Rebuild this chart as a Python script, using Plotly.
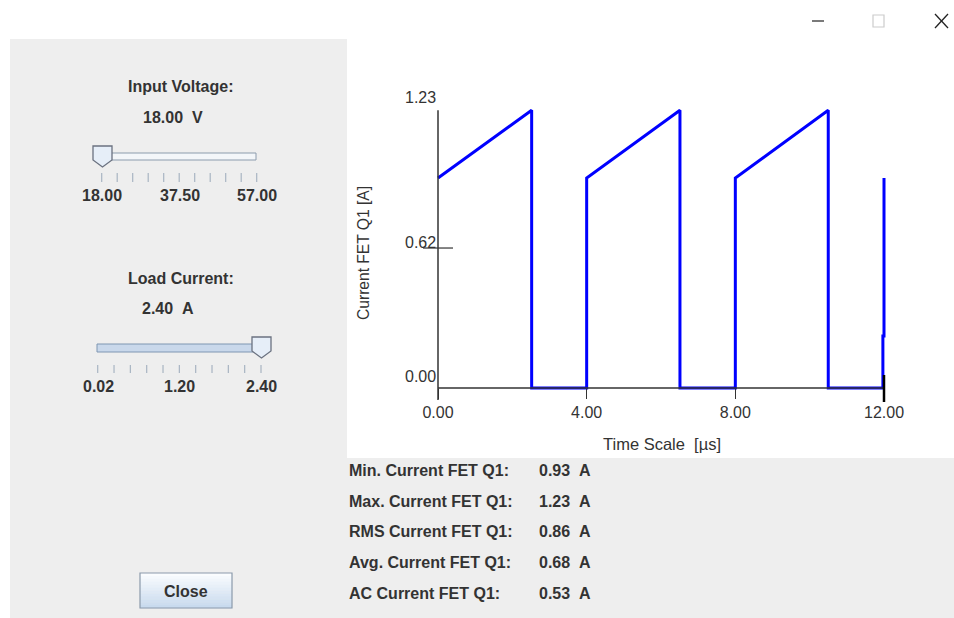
import plotly.graph_objects as go

# ---------------- data ----------------
time_us = [0.0, 2.52, 2.52, 4.0, 4.0, 6.51, 6.51, 8.0, 8.0, 10.50, 10.50, 11.97, 11.97, 12.0, 12.0]
current_a = [0.93, 1.23, 0.0, 0.0, 0.93, 1.23, 0.0, 0.0, 0.93, 1.23, 0.0, 0.0, 0.23, 0.23, 0.93]

x_tick_vals = [0, 4, 8, 12]
x_tick_text = ["0.00", "4.00", "8.00", "12.00"]
y_tick_vals = [1.23, 0.62, 0.00]
y_tick_text = ["1.23", "0.62", "0.00"]

voltage_slider_labels = ["18.00", "37.50", "57.00"]
current_slider_labels = ["0.02", "1.20", "2.40"]

stat_labels = ["Min. Current FET Q1:", "Max. Current FET Q1:", "RMS Current FET Q1:",
               "Avg. Current FET Q1:", "AC Current FET Q1:"]
stat_values = ["0.93", "1.23", "0.86", "0.68", "0.53"]
stat_unit = "A"

# ---------------- geometry helpers ----------------
W, H = 954, 618
FONT = "Liberation Sans, Arial, sans-serif"
TXT = "#333333"
GRAY = "#eeeeee"


def px(x):
    return x / W


def py(y):
    return 1 - y / H


# pixel positions of axis origin and scale
X0_PX, X12_PX = 438.0, 884.0
Y0_PX, Y123_PX = 388.0, 110.3
sx = (X12_PX - X0_PX) / 12.0          # px per us
sy = (Y0_PX - Y123_PX) / 1.23         # px per A

# plot domain (pixels)
DL, DR, DT, DB = 400.0, 905.0, 95.0, 410.0
x_range = [(DL - X0_PX) / sx, (DR - X0_PX) / sx]
y_range = [(Y0_PX - DB) / sy, (Y0_PX - DT) / sy]

fig = go.Figure()
fig.add_trace(go.Scatter(x=time_us, y=current_a, mode="lines",
                         line=dict(color="#0000ff", width=3), hoverinfo="skip"))

shapes = []
annotations = []

# background panels
shapes.append(dict(type="rect", xref="paper", yref="paper", x0=px(10), x1=px(347), y0=py(618), y1=py(39),
                   fillcolor=GRAY, line=dict(width=0), layer="below"))
shapes.append(dict(type="rect", xref="paper", yref="paper", x0=px(10), x1=px(954), y0=py(618), y1=py(458),
                   fillcolor=GRAY, line=dict(width=0), layer="below"))

# axis lines
AX = "#333333"
shapes.append(dict(type="line", xref="x", yref="y", x0=0, x1=0, y0=(Y0_PX - 400) / sy, y1=1.23,
                   line=dict(color=AX, width=1.5)))
shapes.append(dict(type="line", xref="x", yref="y", x0=0, x1=12, y0=0, y1=0,
                   line=dict(color=AX, width=1.5)))
# y tick at 0.62 crossing the axis
shapes.append(dict(type="line", xref="x", yref="y", x0=-15 / sx, x1=15 / sx, y0=0.62, y1=0.62,
                   line=dict(color=AX, width=1.2)))
# thick end marker at 12
shapes.append(dict(type="line", xref="x", yref="y", x0=12, x1=12, y0=13 / sy, y1=-14 / sy,
                   line=dict(color="#000000", width=2.5)))

# y tick labels
y_shift = {"1.23": 13, "0.62": 6, "0.00": 12}
for v, t in zip(y_tick_vals, y_tick_text):
    annotations.append(dict(xref="x", yref="y", x=0, y=v, text=t, showarrow=False,
                            xanchor="right", yanchor="middle", yshift=y_shift[t], xshift=0,
                            font=dict(family=FONT, size=16, color=TXT)))

# axis titles
annotations.append(dict(xref="paper", yref="paper", x=px(662), y=py(444), text="Time Scale\u00a0\u00a0[µs]",
                        showarrow=False, xanchor="center", yanchor="middle",
                        font=dict(family=FONT, size=16.5, color=TXT)))
annotations.append(dict(xref="paper", yref="paper", x=px(364), y=py(253), text="Current FET Q1 [A]",
                        showarrow=False, xanchor="center", yanchor="middle", textangle=-90,
                        font=dict(family=FONT, size=15.6, color=TXT)))

# title bar glyphs
shapes.append(dict(type="line", xref="paper", yref="paper", x0=px(812), x1=px(824), y0=py(21), y1=py(21),
                   line=dict(color="#222222", width=1.2)))
shapes.append(dict(type="rect", xref="paper", yref="paper", x0=px(873), x1=px(884), y0=py(27), y1=py(15),
                   line=dict(color="#cccccc", width=1.2)))
shapes.append(dict(type="line", xref="paper", yref="paper", x0=px(935), x1=px(948), y0=py(14), y1=py(28),
                   line=dict(color="#222222", width=1.3)))
shapes.append(dict(type="line", xref="paper", yref="paper", x0=px(935), x1=px(948), y0=py(28), y1=py(14),
                   line=dict(color="#222222", width=1.3)))


def bold_text(x, y, text, anchor="center", size=16):
    annotations.append(dict(xref="paper", yref="paper", x=px(x), y=py(y), text="<b>" + text + "</b>",
                            showarrow=False, xanchor=anchor, yanchor="middle",
                            font=dict(family=FONT, size=size, color=TXT)))


# ---------- slider 1: input voltage ----------
bold_text(180, 87, "Input Voltage:")
bold_text(141, 117, "18.00\u00a0\u00a0V", anchor="left")
shapes.append(dict(type="rect", xref="paper", yref="paper", x0=px(100), x1=px(256), y0=py(160), y1=py(153),
                   fillcolor="#f3f6f9", line=dict(color="#8c9cad", width=1)))
for i in range(11):
    xx = 101.7 + i * (256.7 - 101.7) / 10
    shapes.append(dict(type="line", xref="paper", yref="paper", x0=px(xx), x1=px(xx), y0=py(173), y1=py(182),
                       line=dict(color="#a8b4c2", width=1.2)))
thumb1 = "M {a},{b} L {c},{b} L {c},{d} L {e},{f} L {g},{d} L {g},{b} Z".format(
    a=px(93), b=py(146), c=px(112), d=py(160), e=px(102.5), f=py(167), g=px(93))
shapes.append(dict(type="path", xref="paper", yref="paper", path=thumb1,
                   fillcolor="#e6eef8", line=dict(color="#6b7280", width=1.3)))
for xx, t in zip([102, 180, 257], voltage_slider_labels):
    bold_text(xx, 195, t)

# ---------- slider 2: load current ----------
bold_text(180.5, 278, "Load Current:")
bold_text(140, 308, "2.40\u00a0\u00a0A", anchor="left")
shapes.append(dict(type="rect", xref="paper", yref="paper", x0=px(97), x1=px(262), y0=py(352), y1=py(344),
                   fillcolor="#c9d8eb", line=dict(color="#7f96b2", width=1)))
for i in range(11):
    xx = 97.7 + i * (261.0 - 97.7) / 10
    shapes.append(dict(type="line", xref="paper", yref="paper", x0=px(xx), x1=px(xx), y0=py(365), y1=py(373),
                       line=dict(color="#a8b4c2", width=1.2)))
thumb2 = "M {a},{b} L {c},{b} L {c},{d} L {e},{f} L {g},{d} L {g},{b} Z".format(
    a=px(252), b=py(337), c=px(271), d=py(351), e=px(261.5), f=py(358), g=px(252))
shapes.append(dict(type="path", xref="paper", yref="paper", path=thumb2,
                   fillcolor="#e6eef8", line=dict(color="#6b7280", width=1.3)))
for xx, t in zip([98, 179, 261], current_slider_labels):
    bold_text(xx, 386, t)

# ---------- close button (vertical gradient) ----------
top_rgb, bot_rgb = (250, 252, 254), (200, 218, 238)
n_strips = 12
for k in range(n_strips):
    f = k / (n_strips - 1)
    c = tuple(int(round(top_rgb[j] + (bot_rgb[j] - top_rgb[j]) * f)) for j in range(3))
    y_a = 573 + k * 35 / n_strips
    y_b = 573 + (k + 1) * 35 / n_strips
    shapes.append(dict(type="rect", xref="paper", yref="paper", x0=px(140), x1=px(232),
                       y0=py(y_b + 0.3), y1=py(y_a), fillcolor="rgb(%d,%d,%d)" % c, line=dict(width=0)))
shapes.append(dict(type="rect", xref="paper", yref="paper", x0=px(140), x1=px(232), y0=py(608), y1=py(573),
                   fillcolor="rgba(0,0,0,0)", line=dict(color="#8b9aab", width=1.2)))
bold_text(186, 591, "Close")

# ---------- statistics ----------
for i, (lab, val) in enumerate(zip(stat_labels, stat_values)):
    yy = 470.5 + i * 30.7
    bold_text(347, yy, lab, anchor="left")
    bold_text(537, yy, val + "\u00a0\u00a0" + stat_unit, anchor="left")

fig.update_layout(
    width=W, height=H,
    margin=dict(l=0, r=0, t=0, b=0),
    paper_bgcolor="#ffffff", plot_bgcolor="#ffffff",
    showlegend=False,
    xaxis=dict(domain=[px(DL), px(DR)], range=x_range, anchor="free", position=py(Y0_PX),
               showgrid=False, zeroline=False, showline=False,
               tickmode="array", tickvals=x_tick_vals, ticktext=x_tick_text,
               ticks="outside", ticklen=10, tickwidth=1.2, tickcolor=AX,
               tickfont=dict(family=FONT, size=16, color=TXT), fixedrange=True),
    yaxis=dict(domain=[py(DB), py(DT)], range=y_range, showgrid=False, zeroline=False,
               showline=False, showticklabels=False, ticks="", fixedrange=True),
    shapes=shapes,
    annotations=annotations,
)

fig.write_html("out.html", config=dict(displayModeBar=False),
               post_script="document.body.style.margin='0';document.body.style.overflow='hidden';")
